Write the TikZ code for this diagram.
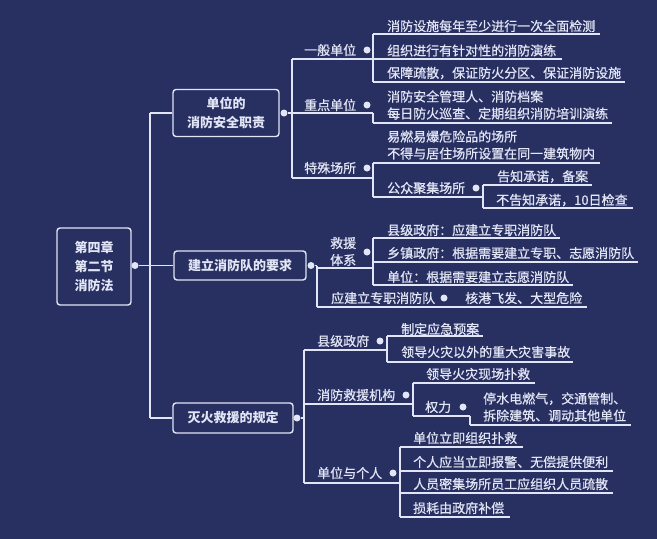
\documentclass[tikz,border=0pt]{standalone}
\usepackage{fontspec}
\setmainfont{Noto Sans CJK SC}
\newfontfamily\medfont[FakeBold=0.7]{Noto Sans CJK SC}
\definecolor{bg}{HTML}{273061}
\definecolor{fg}{HTML}{E2E5F5}
\newcommand{\ulin}[4]{\coordinate (#1s) at (#2,#4); \coordinate (#1e) at (#3,#4); \draw[ln] (#1s) -- (#1e);}
\begin{document}
\begin{tikzpicture}[x=1pt,y=-1pt,
  ln/.style={draw=fg,line width=1.3pt},
  lbl/.style={anchor=west,inner sep=0pt,text=fg,align=left,font=\medfont\fontsize{13}{17}\selectfont},
  dotn/.style={circle,fill=fg,draw=none,inner sep=0pt,minimum size=7pt},
  boxn/.style={draw=fg,line width=1.4pt,rounded corners=3pt,fill=bg,text=fg,align=center,inner sep=0pt,font=\bfseries\fontsize{13}{19}\selectfont}]
\fill[bg] (0,0) rectangle (657,539);
\useasboundingbox (0,0) rectangle (657,539);

% root and branch boxes
\node[boxn,minimum width=74pt,minimum height=77pt] (root) at (94,266.5) {第四章\\第二节\\消防法};
\node[dotn] (rootdot) at (135,265.5) {};
\node[boxn,minimum width=106pt,minimum height=47pt] (b1) at (226,113) {单位的\\消防安全职责};
\node[boxn,minimum width=132pt,minimum height=29pt] (b2) at (240,265.5) {建立消防队的要求};
\node[boxn,minimum width=120pt,minimum height=30pt] (b3) at (233,418) {灭火救援的规定};
\node[dotn] (d1) at (284,113) {};
\node[dotn] (d2) at (311,265.5) {};
\node[dotn] (d3) at (297,418) {};

\coordinate (tr1) at (150,113);
\coordinate (tr3) at (150,418);
\draw[ln] (tr1) -- (tr3);
\draw[ln] (tr1) -- (b1.west);
\draw[ln] (tr3) -- (b3.west);
\draw[ln] (rootdot) -- (b2.west);

% ===== branch 1 =====
\node[lbl] (n1a) at (304,50) {一般单位};
\node[dotn] (n1adot) at (367,50) {};
\ulin{u1a}{292}{373}{59}
\node[lbl] (n1a1) at (387,26) {消防设施每年至少进行一次全面检测};
\ulin{u1a1}{373}{600}{34}
\node[lbl] (n1a2) at (387,50.5) {组织进行有针对性的消防演练};
\ulin{u1a2}{373}{562}{59}
\node[lbl] (n1a3) at (387,73) {保障疏散，保证防火分区、保证消防设施};
\ulin{u1a3}{373}{625}{82}
\draw[ln] (u1a1s) -- (u1a3s);

\node[lbl] (n1b) at (304,105) {重点单位};
\node[dotn] (n1bdot) at (367,105) {};
\ulin{u1b}{292}{373}{113}
\node[lbl] (n1b1) at (387,105) {消防安全管理人、消防档案\\每日防火巡查、定期组织消防培训演练};
\ulin{u1b1}{373}{612}{123}
\draw[ln] (u1be) -- (u1b1s);

\node[lbl] (n1c) at (304,168) {特殊场所};
\node[dotn] (n1cdot) at (367,168) {};
\ulin{u1c}{292}{373}{178}
\node[lbl] (n1c1) at (387,145) {易燃易爆危险品的场所\\不得与居住场所设置在同一建筑物内};
\ulin{u1c1}{373}{600}{163}
\node[lbl] (n1c2) at (387,188) {公众聚集场所};
\node[dotn] (n1c2dot) at (476,188) {};
\ulin{u1c2}{373}{483}{197}
\draw[ln] (u1c1s) -- (u1c2s);
\node[lbl] (n1c21) at (497,176.5) {告知承诺，备案};
\ulin{u1c21}{483}{592}{185}
\node[lbl] (n1c22) at (496,200) {不告知承诺，10日检查};
\ulin{u1c22}{483}{633}{208}
\draw[ln] (u1c21s) -- (u1c22s);

\draw[ln] (d1) -- (u1bs);
\draw[ln] (u1as) -- (u1cs);

% ===== branch 2 =====
\coordinate (j2) at (317,265.5);
\draw[ln] (d2) -- (j2);
\node[lbl] (n2a) at (330,251.5) {救援\\体系};
\node[dotn] (n2adot) at (367,252) {};
\ulin{u2a}{317}{373}{268}
\node[lbl] (n2a1) at (387,230) {县级政府：应建立专职消防队};
\ulin{u2a1}{373}{560}{238}
\node[lbl] (n2a2) at (387,253) {乡镇政府：根据需要建立专职、志愿消防队};
\ulin{u2a2}{373}{638}{262}
\node[lbl] (n2a3) at (387,277) {单位：根据需要建立志愿消防队};
\ulin{u2a3}{373}{573}{285}
\draw[ln] (u2a1s) -- (u2a3s);

\node[lbl] (n2b) at (331,298) {应建立专职消防队};
\node[dotn] (n2bdot) at (444,298) {};
\ulin{u2b}{317}{455}{307}
\node[lbl] (n2b1) at (465,298) {核港飞发、大型危险};
\ulin{u2b1}{455}{587}{307}
\draw[ln] (j2) -- (u2bs);

% ===== branch 3 =====
\coordinate (j3) at (304,418);
\draw[ln] (d3) -- (j3);
\node[lbl] (n3a) at (317,341) {县级政府};
\node[dotn] (n3adot) at (380,341) {};
\ulin{u3a}{304}{387}{350}
\node[lbl] (n3a1) at (401,329) {制定应急预案};
\ulin{u3a1}{387}{483}{336}
\node[lbl] (n3a2) at (401,352) {领导火灾以外的重大灾害事故};
\ulin{u3a2}{387}{573}{362}
\draw[ln] (u3a1s) -- (u3a2s);

\node[lbl] (n3b) at (317,395) {消防救援机构};
\node[dotn] (n3bdot) at (406,395) {};
\ulin{u3b}{304}{413}{404}
\node[lbl] (n3b1) at (426,374) {领导火灾现场扑救};
\ulin{u3b1}{413}{535}{383}
\node[lbl] (n3b2) at (425,407) {权力};
\node[dotn] (n3b2dot) at (463,407) {};
\ulin{u3b2}{413}{470}{416}
\draw[ln] (u3b1s) -- (u3b2s);
\node[lbl] (n3b21) at (483,407) {停水电燃气，交通管制、\\拆除建筑、调动其他单位};
\ulin{u3b21}{470}{631}{425}
\draw[ln] (u3b2e) -- (u3b21s);

\node[lbl] (n3c) at (317,473) {单位与个人};
\node[dotn] (n3cdot) at (393,473) {};
\ulin{u3c}{304}{400}{483}
\node[lbl] (n3c1) at (413,438) {单位立即组织扑救};
\ulin{u3c1}{400}{523}{447}
\node[lbl] (n3c2) at (413,462) {个人应当立即报警、无偿提供便利};
\ulin{u3c2}{400}{613}{471}
\node[lbl] (n3c3) at (413,484) {人员密集场所员工应组织人员疏散};
\ulin{u3c3}{400}{613}{493}
\node[lbl] (n3c4) at (413,508) {损耗由政府补偿};
\ulin{u3c4}{400}{510}{517}
\draw[ln] (u3c1s) -- (u3c4s);

\draw[ln] (u3as) -- (u3cs);
\end{tikzpicture}
\end{document}
